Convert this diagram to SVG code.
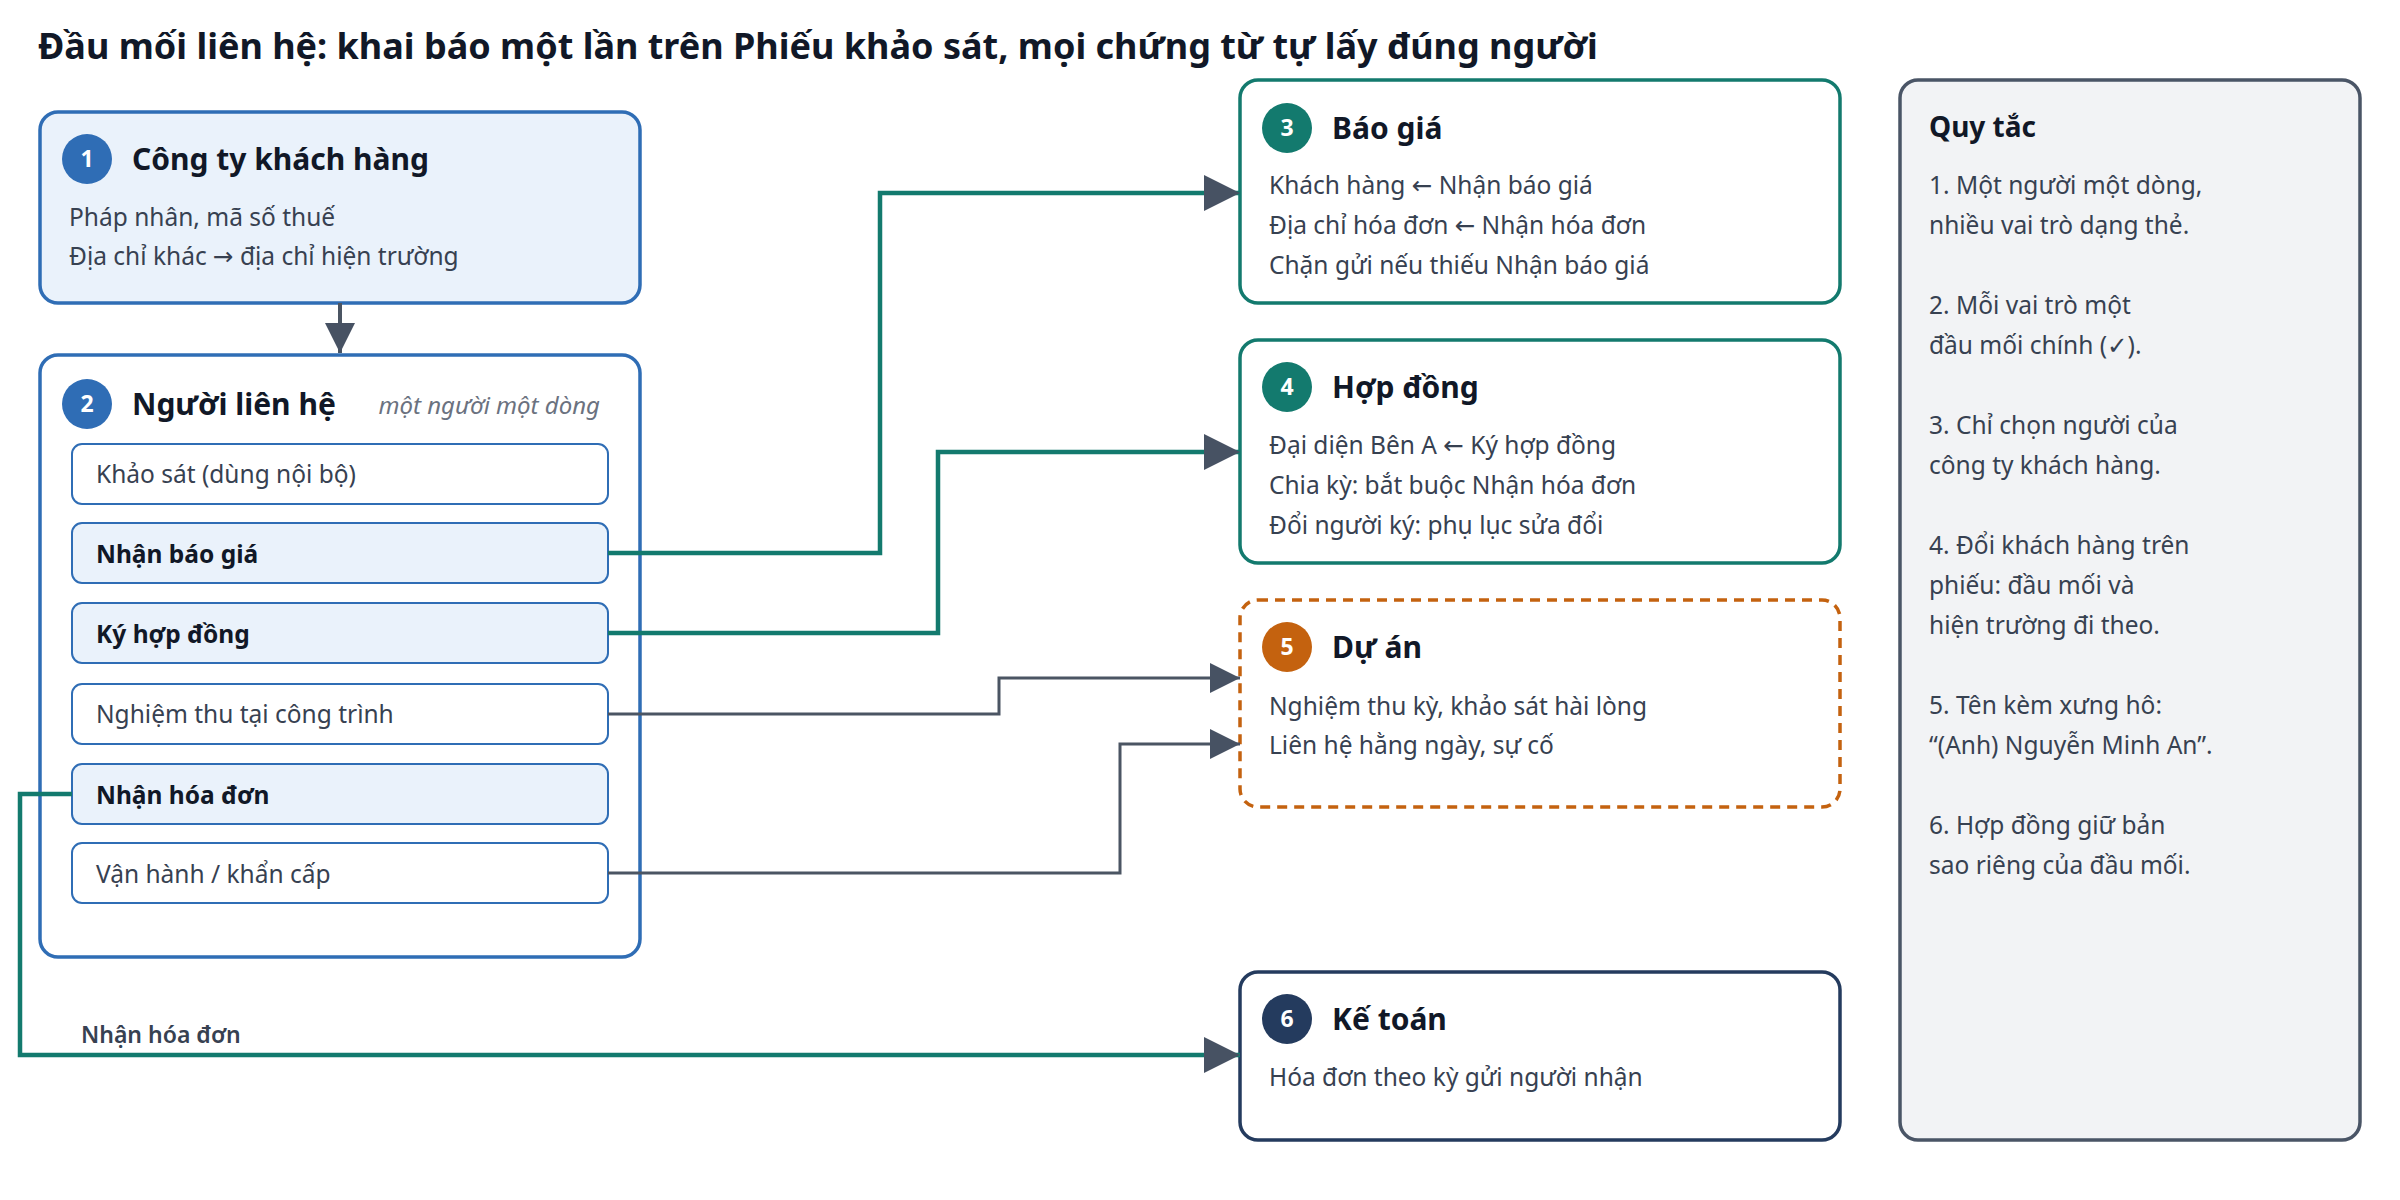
<svg xmlns="http://www.w3.org/2000/svg" width="2400" height="1200" viewBox="0 0 2400 1200">
<style>
text{font-family:"Noto Sans","DejaVu Sans",sans-serif;fill:#1f2937}
.title{font-size:36px;font-weight:700;fill:#111827}
.h{font-size:30px;font-weight:700;fill:#111827}
.b{font-size:24.5px;fill:#374151}
.num{font-size:23px;font-weight:700;fill:#fff;text-anchor:middle}
.row{fill:#fff;stroke:#2f6db5;stroke-width:2}
.rowh{fill:#eaf2fb;stroke:#2f6db5;stroke-width:2}
.rt{font-size:24.5px;fill:#374151}
.rtb{font-size:24.5px;font-weight:700;fill:#111827}
.teal{fill:none;stroke:#137a6e;stroke-width:4.5}
.grey{fill:none;stroke:#4b5563;stroke-width:3}
</style>
<defs>
<marker id="ah" viewBox="0 0 10 10" refX="10" refY="5" markerUnits="userSpaceOnUse" markerWidth="36" markerHeight="36" orient="auto"><path d="M0,0 L10,5 L0,10 z" fill="#475263"/></marker>
<marker id="ah2" viewBox="0 0 10 10" refX="10" refY="5" markerUnits="userSpaceOnUse" markerWidth="30" markerHeight="30" orient="auto"><path d="M0,0 L10,5 L0,10 z" fill="#475263"/></marker>
</defs>
<rect width="2400" height="1200" fill="#fff"/>
<text class="title" x="38" y="59">Đầu mối liên hệ: khai báo một lần trên Phiếu khảo sát, mọi chứng từ tự lấy đúng người</text>

<g id="node1">
<rect x="40" y="112" width="600" height="191" rx="18" fill="#eaf2fb" stroke="#2f6db5" stroke-width="3.5"/>
<circle cx="87" cy="159" r="25" fill="#2f6db5"/>
<text class="num" x="87" y="167">1</text>
<text class="h" x="132" y="170">Công ty khách hàng</text>
<text class="b" x="69" y="226">Pháp nhân, mã số thuế</text>
<text class="b" x="69" y="265">Địa chỉ khác → địa chỉ hiện trường</text>
</g>

<g id="node2">
<rect x="40" y="355" width="600" height="602" rx="18" fill="#fff" stroke="#2f6db5" stroke-width="3.5"/>
<circle cx="87" cy="404" r="25" fill="#2f6db5"/>
<text class="num" x="87" y="412">2</text>
<text class="h" x="132" y="415">Người liên hệ</text>
<text x="600" y="414" text-anchor="end" style="font-size:24px;font-style:italic;fill:#6b7280">một người một dòng</text>
<rect class="row" x="72" y="444" width="536" height="60" rx="10"/>
<text class="rt" x="96" y="483">Khảo sát (dùng nội bộ)</text>
<rect class="rowh" x="72" y="523" width="536" height="60" rx="10"/>
<text class="rtb" x="96" y="563">Nhận báo giá</text>
<rect class="rowh" x="72" y="603" width="536" height="60" rx="10"/>
<text class="rtb" x="96" y="643">Ký hợp đồng</text>
<rect class="row" x="72" y="684" width="536" height="60" rx="10"/>
<text class="rt" x="96" y="723">Nghiệm thu tại công trình</text>
<rect class="rowh" x="72" y="764" width="536" height="60" rx="10"/>
<text class="rtb" x="96" y="804">Nhận hóa đơn</text>
<rect class="row" x="72" y="843" width="536" height="60" rx="10"/>
<text class="rt" x="96" y="883">Vận hành / khẩn cấp</text>
</g>

<g id="node3">
<rect x="1240" y="80" width="600" height="223" rx="18" fill="#fff" stroke="#137a6e" stroke-width="3.5"/>
<circle cx="1287" cy="128" r="25" fill="#137a6e"/>
<text class="num" x="1287" y="136">3</text>
<text class="h" x="1332" y="139">Báo giá</text>
<text class="b" x="1269" y="194">Khách hàng ← Nhận báo giá</text>
<text class="b" x="1269" y="234">Địa chỉ hóa đơn ← Nhận hóa đơn</text>
<text class="b" x="1269" y="274">Chặn gửi nếu thiếu Nhận báo giá</text>
</g>

<g id="node4">
<rect x="1240" y="340" width="600" height="223" rx="18" fill="#fff" stroke="#137a6e" stroke-width="3.5"/>
<circle cx="1287" cy="387" r="25" fill="#137a6e"/>
<text class="num" x="1287" y="395">4</text>
<text class="h" x="1332" y="398">Hợp đồng</text>
<text class="b" x="1269" y="454">Đại diện Bên A ← Ký hợp đồng</text>
<text class="b" x="1269" y="494">Chia kỳ: bắt buộc Nhận hóa đơn</text>
<text class="b" x="1269" y="534">Đổi người ký: phụ lục sửa đổi</text>
</g>

<g id="node5">
<rect x="1240" y="600" width="600" height="207" rx="18" fill="#fff" stroke="#c4620f" stroke-width="3.5" stroke-dasharray="10 7"/>
<circle cx="1287" cy="647" r="25" fill="#c4620f"/>
<text class="num" x="1287" y="655">5</text>
<text class="h" x="1332" y="658">Dự án</text>
<text class="b" x="1269" y="715">Nghiệm thu kỳ, khảo sát hài lòng</text>
<text class="b" x="1269" y="754">Liên hệ hằng ngày, sự cố</text>
</g>

<g id="node6">
<rect x="1240" y="972" width="600" height="168" rx="18" fill="#fff" stroke="#243b5e" stroke-width="3.5"/>
<circle cx="1287" cy="1019" r="25" fill="#243b5e"/>
<text class="num" x="1287" y="1027">6</text>
<text class="h" x="1332" y="1030">Kế toán</text>
<text class="b" x="1269" y="1086">Hóa đơn theo kỳ gửi người nhận</text>
</g>

<g id="rules">
<rect x="1900" y="80" width="460" height="1060" rx="18" fill="#f2f3f5" stroke="#4a5566" stroke-width="3.5"/>
<text x="1929" y="137" style="font-size:28px;font-weight:700;fill:#111827">Quy tắc</text>
<text class="b" x="1929" y="194">1. Một người một dòng,</text>
<text class="b" x="1929" y="234">nhiều vai trò dạng thẻ.</text>
<text class="b" x="1929" y="314">2. Mỗi vai trò một</text>
<text class="b" x="1929" y="354">đầu mối chính (✓).</text>
<text class="b" x="1929" y="434">3. Chỉ chọn người của</text>
<text class="b" x="1929" y="474">công ty khách hàng.</text>
<text class="b" x="1929" y="554">4. Đổi khách hàng trên</text>
<text class="b" x="1929" y="594">phiếu: đầu mối và</text>
<text class="b" x="1929" y="634">hiện trường đi theo.</text>
<text class="b" x="1929" y="714">5. Tên kèm xưng hô:</text>
<text class="b" x="1929" y="754">“(Anh) Nguyễn Minh An”.</text>
<text class="b" x="1929" y="834">6. Hợp đồng giữ bản</text>
<text class="b" x="1929" y="874">sao riêng của đầu mối.</text>
</g>

<g id="connectors">
<path d="M340,303 V353" fill="none" stroke="#4b5563" stroke-width="4" marker-end="url(#ah2)"/>
<path class="teal" d="M608,553 H880 V193 H1240" marker-end="url(#ah)"/>
<path class="teal" d="M608,633 H938 V452 H1240" marker-end="url(#ah)"/>
<path class="grey" d="M608,714 H999 V678 H1240" marker-end="url(#ah2)"/>
<path class="grey" d="M608,873 H1120 V744 H1240" marker-end="url(#ah2)"/>
<path class="teal" d="M72,794 H20 V1055 H1240" marker-end="url(#ah)"/>
<text x="81" y="1043" style="font-size:23px;font-weight:600;fill:#374151">Nhận hóa đơn</text>
</g>
</svg>
